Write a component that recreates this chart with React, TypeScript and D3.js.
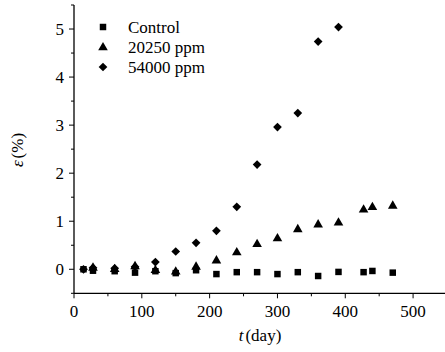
import React from "react";
import * as d3 from "d3";

const days = [14, 28, 60, 90, 120, 150, 180, 210, 240, 270, 300, 330, 360, 390, 427, 440, 470];
const controlValues = [0.0, -0.03, -0.04, -0.07, -0.04, -0.08, -0.02, -0.1, -0.06, -0.06, -0.1, -0.06, -0.14, -0.055, -0.06, -0.035, -0.07];
const ppm20250Days = [28, 60, 90, 120, 150, 180, 210, 240, 270, 300, 330, 360, 390, 427, 440, 470];
const ppm20250Values = [0.04, 0.01, 0.07, -0.01, -0.04, 0.06, 0.19, 0.36, 0.53, 0.65, 0.84, 0.94, 0.98, 1.25, 1.3, 1.33];
const ppm54000Days = [14, 28, 60, 90, 120, 150, 180, 210, 240, 270, 300, 330, 360, 390];
const ppm54000Values = [0.0, 0.03, 0.02, 0.05, 0.15, 0.37, 0.55, 0.8, 1.3, 2.18, 2.96, 3.25, 4.74, 5.04];
const xTicks = [0, 100, 200, 300, 400, 500];
const yTicks = [0, 1, 2, 3, 4, 5];
const legendLabels = ["Control", "20250 ppm", "54000 ppm"];

const W = 445, H = 352;
const x = d3.scaleLinear().domain([0, 550]).range([74, 447]);
const y = d3.scaleLinear().domain([-0.5, 5.5]).range([293.3, 5]);
const FF = "serif";
const FS = 17;

const sq = d3.symbol().type(d3.symbolSquare).size(42)();
const tri = d3.symbol().type(d3.symbolTriangle).size(40)();
const dia = d3.symbol().type(d3.symbolSquare).size(38)();

function Marker({ kind, cx, cy }: { kind: number; cx: number; cy: number }) {
  if (kind === 0) return <path d={sq!} transform={`translate(${cx},${cy})`} fill="#000" />;
  if (kind === 1) return <path d={tri!} transform={`translate(${cx},${cy + 0.5})`} fill="#000" />;
  return <path d={dia!} transform={`translate(${cx},${cy}) rotate(45)`} fill="#000" />;
}

export default function App() {
  const xMinor = d3.range(0, 551, 50);
  const yMinor = d3.range(-0.5, 5.51, 0.5);
  return (
    <svg width={W} height={H} style={{ display: "block", position: "absolute", left: 0, top: 0 }}>
      <rect width={W} height={H} fill="#fff" />
      <line x1={74} x2={74} y1={y(5.5)} y2={y(-0.5)} stroke="#000" strokeWidth={1.3} />
      <line x1={74} x2={445} y1={y(-0.5)} y2={y(-0.5)} stroke="#000" strokeWidth={1.3} />
      {yMinor.map((v) => {
        const major = Math.abs(v - Math.round(v)) < 1e-6;
        return <line key={"ym" + v} x1={74 - (major ? 5 : 3)} x2={74} y1={y(v)} y2={y(v)} stroke="#000" strokeWidth={1} />;
      })}
      {xMinor.map((v) => {
        const major = v % 100 === 0;
        return <line key={"xm" + v} x1={x(v)} x2={x(v)} y1={y(-0.5)} y2={y(-0.5) + (major ? 5 : 3)} stroke="#000" strokeWidth={1} />;
      })}
      {yTicks.map((v) => (
        <text key={"yt" + v} x={64} y={y(v) + 5.5} textAnchor="end" fontFamily={FF} fontSize={FS}>{v}</text>
      ))}
      {xTicks.map((v) => (
        <text key={"xt" + v} x={x(v)} y={317} textAnchor="middle" fontFamily={FF} fontSize={FS}>{v}</text>
      ))}
      <text x={260} y={341} textAnchor="middle" fontFamily={FF} fontSize={FS}>
        <tspan fontStyle="italic">t</tspan>
        <tspan dx={2}>(day)</tspan>
      </text>
      <text transform={`translate(23,150) rotate(-90)`} textAnchor="middle" fontFamily={FF} fontSize={FS}>
        <tspan fontStyle="italic">ε</tspan>
        <tspan dx={2}>(%)</tspan>
      </text>
      {days.map((d, i) => <Marker key={"c" + i} kind={0} cx={x(d)} cy={y(controlValues[i])} />)}
      {ppm20250Days.map((d, i) => <Marker key={"a" + i} kind={1} cx={x(d)} cy={y(ppm20250Values[i])} />)}
      {ppm54000Days.map((d, i) => <Marker key={"b" + i} kind={2} cx={x(d)} cy={y(ppm54000Values[i])} />)}
      {legendLabels.map((l, i) => (
        <g key={"lg" + i}>
          <Marker kind={i} cx={103} cy={27 + i * 20} />
          <text x={128} y={33 + i * 20} fontFamily={FF} fontSize={FS}>{l}</text>
        </g>
      ))}
    </svg>
  );
}
